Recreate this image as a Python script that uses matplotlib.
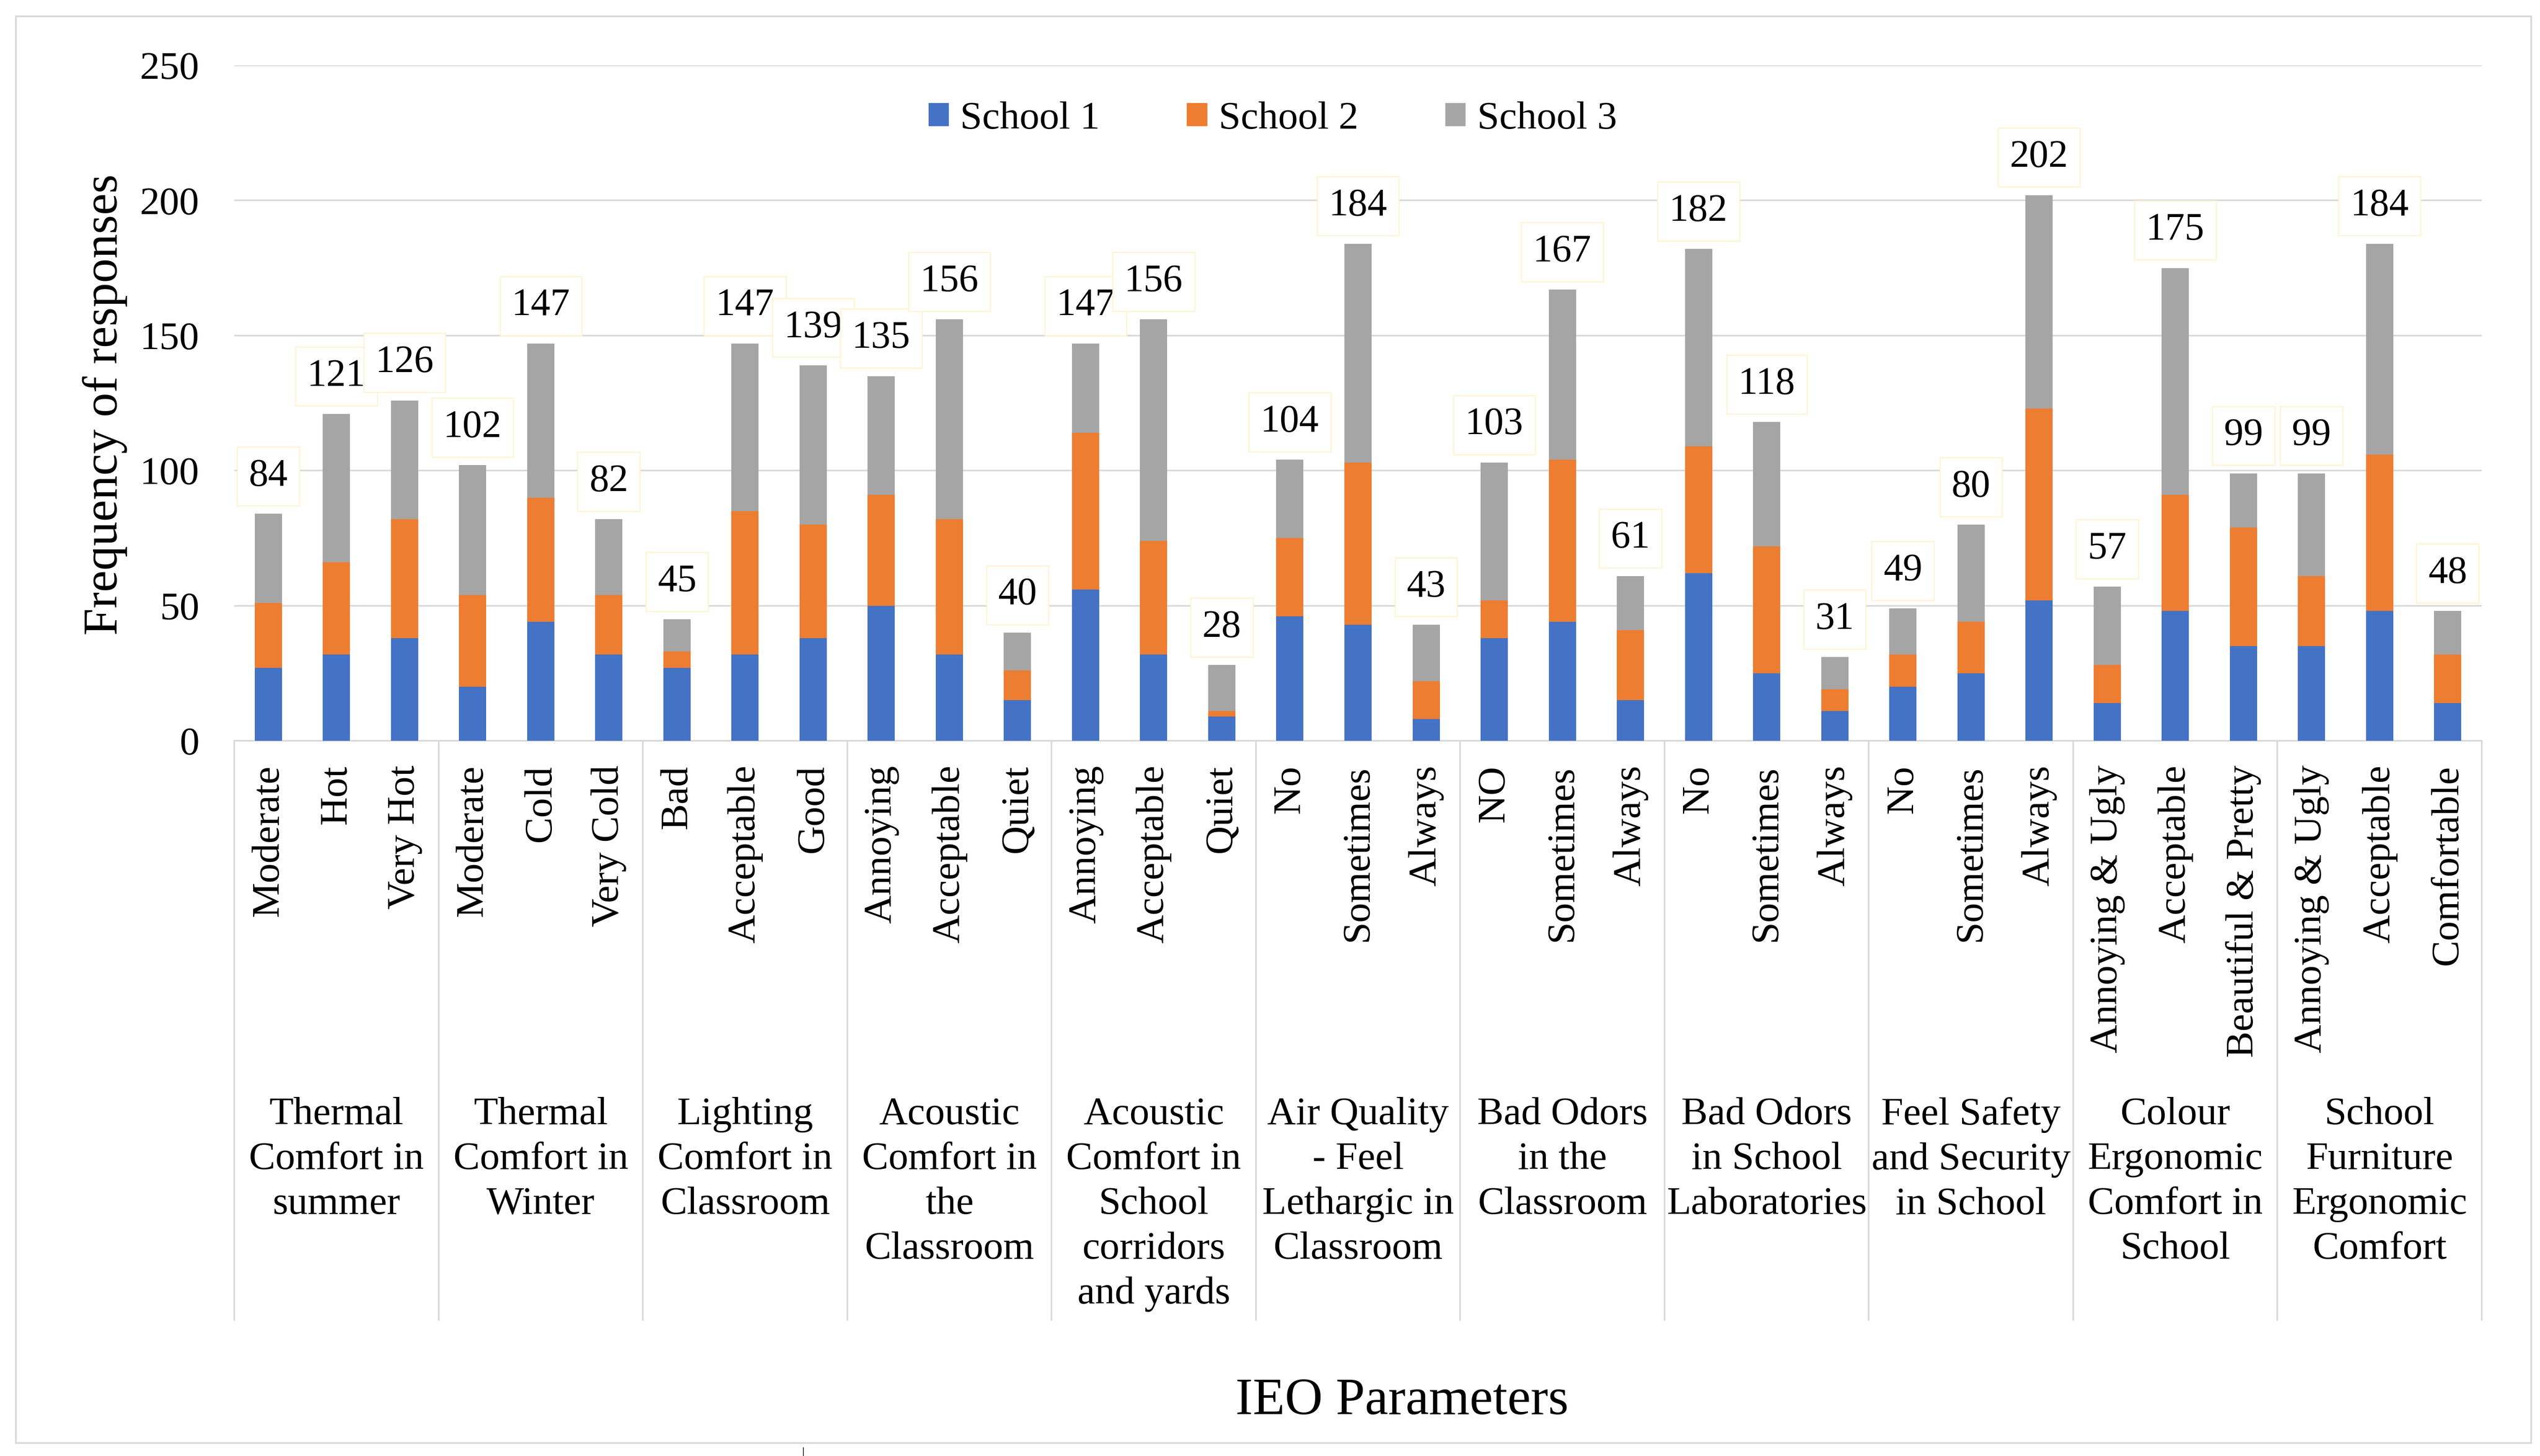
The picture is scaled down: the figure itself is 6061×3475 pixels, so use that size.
import matplotlib
matplotlib.use("Agg")
import matplotlib.pyplot as plt
import matplotlib.transforms as mtransforms
from matplotlib import font_manager
from matplotlib.patches import Rectangle, Patch
from matplotlib.lines import Line2D
import numpy as np

# ─── DATA ────────────────────────────────────────────────────────────────────
GROUPS = [
    "Thermal\nComfort in\nsummer",
    "Thermal\nComfort in\nWinter",
    "Lighting\nComfort in\nClassroom",
    "Acoustic\nComfort in\nthe\nClassroom",
    "Acoustic\nComfort in\nSchool\ncorridors\nand yards",
    "Air Quality\n- Feel\nLethargic in\nClassroom",
    "Bad Odors\nin the\nClassroom",
    "Bad Odors\nin School\nLaboratories",
    "Feel Safety\nand Security\nin School",
    "Colour\nErgonomic\nComfort in\nSchool",
    "School\nFurniture\nErgonomic\nComfort",
]

LABELS = [
    "Moderate", "Hot", "Very Hot",
    "Moderate", "Cold", "Very Cold",
    "Bad", "Acceptable", "Good",
    "Annoying", "Acceptable", "Quiet",
    "Annoying", "Acceptable", "Quiet",
    "No", "Sometimes", "Always",
    "NO", "Sometimes", "Always",
    "No", "Sometimes", "Always",
    "No", "Sometimes", "Always",
    "Annoying & Ugly", "Acceptable", "Beautiful & Pretty",
    "Annoying & Ugly", "Acceptable", "Comfortable",
]

SCHOOL1 = [27, 32, 38, 20, 44, 32, 27, 32, 38, 50, 32, 15, 56, 32, 9,
           46, 43, 8, 38, 44, 15, 62, 25, 11, 20, 25, 52, 14, 48, 35, 35, 48, 14]
SCHOOL2 = [24, 34, 44, 34, 46, 22, 6, 53, 42, 41, 50, 11, 58, 42, 2,
           29, 60, 14, 14, 60, 26, 47, 47, 8, 12, 19, 71, 14, 43, 44, 26, 58, 18]
SCHOOL3 = [33, 55, 44, 48, 57, 28, 12, 62, 59, 44, 74, 14, 33, 82, 17,
           29, 81, 21, 51, 63, 20, 73, 46, 12, 17, 36, 79, 29, 84, 20, 38, 78, 16]

SERIES = ["School 1", "School 2", "School 3"]

# ─── STYLE ───────────────────────────────────────────────────────────────────
BLUE, ORANGE, GRAY = "#4472C4", "#ED7D31", "#A5A5A5"
GRID = "#D9D9D9"
BOXEDGE = "#FFF2CC"
W, H = 6061, 3475
DPI = 100


def pick_serif():
    # Times-like serif: prefer Liberation Serif, register file if needed
    names = {f.name for f in font_manager.fontManager.ttflist}
    for n in ("Liberation Serif", "Times New Roman", "Nimbus Roman",
              "Tinos", "DejaVu Serif"):
        if n in names:
            return n
    for path in font_manager.findSystemFonts():
        if "LiberationSerif-Regular" in path:
            font_manager.fontManager.addfont(path)
            return font_manager.FontProperties(fname=path).get_name()
    return "serif"


FONT = pick_serif()
plt.rcParams["font.family"] = [FONT, "DejaVu Serif"]


def fx(px):
    return px / W


def fy(py):
    return 1 - py / H


fig = plt.figure(figsize=(W / DPI, H / DPI), dpi=DPI, facecolor="white")

# plot area in pixels
L, R, T, B = 559, 5922, 156, 1768
ax = fig.add_axes([fx(L), fy(B), fx(R - L), (B - T) / H])

x = np.arange(len(LABELS))
s1 = np.array(SCHOOL1)
s2 = np.array(SCHOOL2)
s3 = np.array(SCHOOL3)
totals = s1 + s2 + s3

bw = 0.4
ax.bar(x, s1, bw, color=BLUE, label=SERIES[0], zorder=3)
ax.bar(x, s2, bw, bottom=s1, color=ORANGE, label=SERIES[1], zorder=3)
ax.bar(x, s3, bw, bottom=s1 + s2, color=GRAY, label=SERIES[2], zorder=3)

ax.set_xlim(-0.5, len(LABELS) - 0.5)
ax.set_ylim(0, 250)
ax.set_yticks(np.arange(0, 251, 50))
ax.yaxis.grid(True, color=GRID, lw=2.8, zorder=0)
ax.set_axisbelow(True)
for name, sp in ax.spines.items():
    if name == "bottom":
        sp.set_color(GRID)
        sp.set_linewidth(2.8)
    else:
        sp.set_visible(False)

ax.tick_params(axis="y", length=0, pad=60, labelsize=68)
ax.tick_params(axis="x", length=0, pad=42, labelsize=68)
ax.set_xticks(x)
ax.set_xticklabels(LABELS, rotation=90, ha="center", va="top")

# data labels in boxes
for xi, tot in zip(x, totals):
    ax.annotate(f"{tot}", (xi, tot), xytext=(0, 34), textcoords="offset points",
                ha="center", va="bottom", fontsize=67, zorder=5,
                bbox=dict(boxstyle="square,pad=0.3", fc="white",
                          ec=BOXEDGE, lw=1.8))

# group separators and group labels
trans = mtransforms.blended_transform_factory(ax.transData, ax.transAxes)
sep_bottom = (B - 3150) / (B - T)
for g in range(len(GROUPS) + 1):
    xs = g * 3 - 0.5
    ax.add_line(Line2D([xs, xs], [0, sep_bottom], transform=trans,
                       color=GRID, lw=2.8, clip_on=False))
label_top = (B - 2618) / (B - T)
for g, name in enumerate(GROUPS):
    ax.text(g * 3 + 1, label_top, name, transform=trans, ha="center",
            va="top", fontsize=68, linespacing=1.34, multialignment="center")

# axis titles
fig.text(fx(250), fy(966), "Frequency of responses", rotation=90,
         ha="center", va="center", fontsize=84)
fig.text(fx(3345), fy(3345), "IEO Parameters", ha="center", va="center",
         fontsize=90)

# legend
handles = [Patch(color=c) for c in (BLUE, ORANGE, GRAY)]
fig.legend(handles, SERIES, loc="center", bbox_to_anchor=(fx(3037), fy(284)),
           ncol=3, frameon=False, fontsize=68, handlelength=0.5,
           handleheight=0.5, handletextpad=0.3, columnspacing=2.2)

# outer chart frame
fig.add_artist(Rectangle((fx(38), fy(3444)), fx(6040 - 38), (3444 - 39) / H,
                         fill=False, ec=GRID, lw=3, transform=fig.transFigure))
fig.add_artist(Line2D([fx(1917), fx(1917)], [fy(3455), fy(3475)],
                      color="black", lw=1.2, transform=fig.transFigure))

fig.savefig("out.png", dpi=DPI, facecolor="white")
